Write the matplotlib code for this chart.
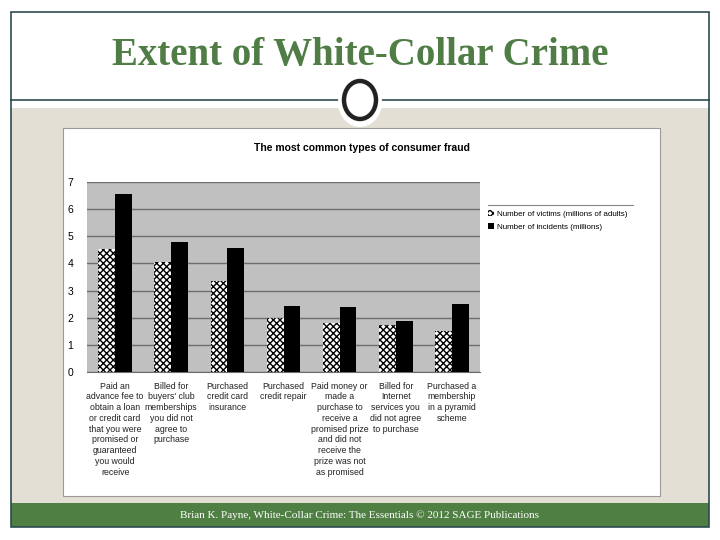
import numpy as np
import matplotlib
matplotlib.use('Agg')
from matplotlib import pyplot as plt
from matplotlib.patches import Rectangle, Ellipse
from matplotlib.lines import Line2D

categories = [
    'Paid an\nadvance fee to\nobtain a loan\nor credit card\nthat you were\npromised or\nguaranteed\nyou would\nreceive',
    'Billed for\nbuyers\' club\nmemberships\nyou did not\nagree to\npurchase',
    'Purchased\ncredit card\ninsurance',
    'Purchased\ncredit repair',
    'Paid money or\nmade a\npurchase to\nreceive a\npromised prize\nand did not\nreceive the\nprize was not\nas promised',
    'Billed for\nInternet\nservices you\ndid not agree\nto purchase',
    'Purchased a\nmembership\nin a pyramid\nscheme',
]
victims = [4.55, 4.05, 3.34, 1.99, 1.82, 1.74, 1.52]
incidents = [6.54, 4.80, 4.58, 2.44, 2.41, 1.89, 2.52]
series_names = ['Number of victims (millions of adults)', 'Number of incidents (millions)']

W, H = 720, 540


def fx(px):
    return px / W


def fy(py):
    return 1 - py / H


fig = plt.figure(figsize=(7.2, 5.4), dpi=100)
fig.patch.set_facecolor('white')

# slide decoration
teal = '#2e4b4f'
fig.patches.append(Rectangle((fx(11), fy(503)), fx(698), 395 / H, transform=fig.transFigure,
                             facecolor='#e3dfd5', edgecolor='none', zorder=0))
fig.patches.append(Rectangle((fx(11), fy(527)), fx(698), 24 / H, transform=fig.transFigure,
                             facecolor='#4f7f43', edgecolor='none', zorder=0))
fig.patches.append(Rectangle((fx(11), fy(527)), fx(698), 515 / H, transform=fig.transFigure,
                             facecolor='none', edgecolor=teal, lw=1.2, zorder=1))
fig.lines.append(Line2D([fx(11), fx(709)], [fy(100), fy(100)], transform=fig.transFigure,
                        color=teal, lw=1.2, zorder=1))
fig.patches.append(Ellipse((fx(360), fy(102)), 44 / W, 50 / H, transform=fig.transFigure,
                           facecolor='white', edgecolor='none', zorder=2))
fig.patches.append(Ellipse((fx(360), fy(100)), 32 / W, 38 / H, transform=fig.transFigure,
                           facecolor='white', edgecolor='#222222', lw=3.2, zorder=3))
# chart area
fig.patches.append(Rectangle((fx(63), fy(496)), fx(597), 368 / H, transform=fig.transFigure,
                             facecolor='white', edgecolor='#9a9a9a', lw=0.8, zorder=1))

fig.text(fx(360), fy(55), 'Extent of White-Collar Crime', ha='center', va='center',
         family='Liberation Serif', fontsize=28, fontweight='bold', color='#507d45')
fig.text(fx(360), fy(515), 'Brian K. Payne, White-Collar Crime: The Essentials \u00a9 2012 SAGE Publications',
         ha='center', va='center', family='Liberation Serif', fontsize=8, color='white')
fig.text(fx(362), fy(148), 'The most common types of consumer fraud', ha='center', va='center',
         family='Liberation Sans', fontsize=7.5, fontweight='bold', color='black')

ax = fig.add_axes([fx(87), fy(372), fx(393), 190 / H])
ax.set_zorder(5)
ax.set_facecolor('#c0c0c0')

x = np.arange(len(categories))
bw = 0.3
plt.rcParams['hatch.linewidth'] = 1.0
ax.bar(x - bw / 2, victims, bw, facecolor='white', edgecolor='black', hatch='xxxxx', lw=0,
       label=series_names[0], zorder=3)
ax.bar(x + bw / 2, incidents, bw, color='black', label=series_names[1], zorder=3)

ax.set_xlim(-0.5, len(categories) - 0.5)
ax.set_ylim(0, 7)
ax.set_yticks(range(8))
ax.yaxis.grid(True, color='#6e6e6e', lw=1)
ax.set_axisbelow(True)
for s in ['top', 'right', 'left']:
    ax.spines[s].set_visible(False)
ax.spines['bottom'].set_color('#6e6e6e')
ax.tick_params(axis='y', length=0, labelsize=7.5, pad=10)
ax.tick_params(axis='x', length=0)
ax.set_xticks(x)
ax.set_xticklabels(categories, family='Liberation Sans', fontsize=6.3, color='#222222',
                   va='top', linespacing=1.25)
ax.tick_params(axis='x', pad=7)
for lbl in ax.get_yticklabels():
    lbl.set_family('Liberation Sans')

leg = fig.legend(loc='upper left', bbox_to_anchor=(fx(484), fy(206)), frameon=False,
                 prop={'family': 'Liberation Sans', 'size': 5.8}, handlelength=0.8,
                 handleheight=0.8, handletextpad=0.3, labelspacing=0.6, borderpad=0)
fig.lines.append(Line2D([fx(488), fx(633)], [fy(205), fy(205)], transform=fig.transFigure,
                        color='#888888', lw=0.8, zorder=2))

fig.savefig('out.png', dpi=100)
